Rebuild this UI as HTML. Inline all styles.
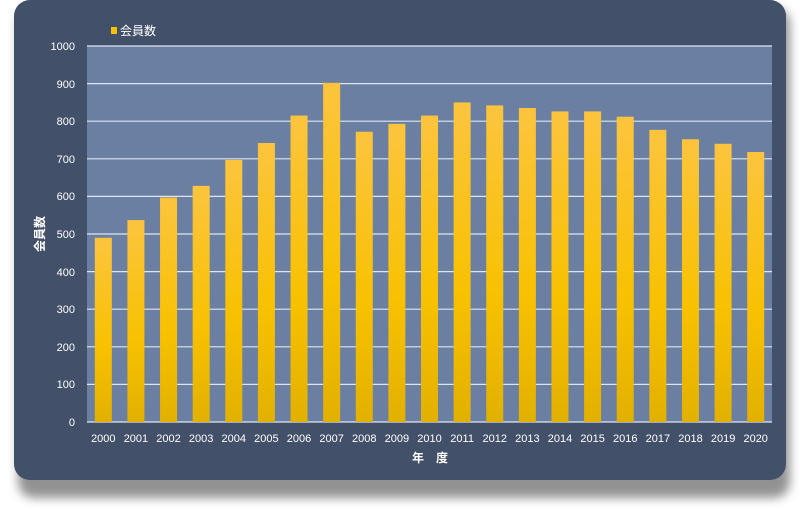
<!DOCTYPE html>
<html><head><meta charset="utf-8"><style>
html,body{margin:0;padding:0;background:#fff;width:800px;height:509px;overflow:hidden}
svg text{font-family:"Liberation Sans","Noto Sans CJK JP",sans-serif;fill:#fff}
</style></head><body>
<svg width="800" height="509" xmlns="http://www.w3.org/2000/svg">
<defs>
<linearGradient id="b" x1="0" y1="0" x2="0" y2="1">
<stop offset="0" stop-color="#fcc43e"/><stop offset="0.6" stop-color="#f8c100"/><stop offset="1" stop-color="#e2b000"/>
</linearGradient>
<filter id="s" x="-5%" y="-5%" width="110%" height="115%"><feGaussianBlur stdDeviation="5"/></filter>
</defs>
<rect x="18" y="8" width="772" height="490" rx="16" fill="#777" filter="url(#s)" opacity="0.8"/>
<rect x="14" y="0" width="772" height="480" rx="16" fill="#435069"/>
<rect x="87" y="46" width="685" height="376" fill="#6a7fa2"/>
<g stroke="#dfe5ee" stroke-width="1.2">
<line x1="87" x2="772" y1="46" y2="46"/><line x1="87" x2="772" y1="83.6" y2="83.6"/><line x1="87" x2="772" y1="121.2" y2="121.2"/><line x1="87" x2="772" y1="158.8" y2="158.8"/><line x1="87" x2="772" y1="196.4" y2="196.4"/><line x1="87" x2="772" y1="234" y2="234"/><line x1="87" x2="772" y1="271.6" y2="271.6"/><line x1="87" x2="772" y1="309.2" y2="309.2"/><line x1="87" x2="772" y1="346.8" y2="346.8"/><line x1="87" x2="772" y1="384.4" y2="384.4"/><line x1="87" x2="772" y1="422" y2="422"/>
</g>
<g font-size="11" text-anchor="end">
<text x="75" y="50">1000</text><text x="75" y="88">900</text><text x="75" y="125">800</text><text x="75" y="163">700</text><text x="75" y="200">600</text><text x="75" y="238">500</text><text x="75" y="276">400</text><text x="75" y="313">300</text><text x="75" y="351">200</text><text x="75" y="388">100</text><text x="75" y="426">0</text>
</g>
<g id="bars" fill="url(#b)"></g>
<g id="lbl" font-size="11" text-anchor="middle"></g>
<text x="44" y="234" font-size="12" font-weight="bold" text-anchor="middle" transform="rotate(-90 44 234)">会員数</text>
<text x="430" y="462" font-size="12" font-weight="bold" text-anchor="middle">年　度</text>
<rect x="111" y="27" width="6" height="7" fill="#f8c100"/>
<text x="120" y="35" font-size="12">会員数</text>
<script>
var v=[490,537,597,628,697,742,815,902,772,793,815,850,842,835,826,826,812,777,752,740,718];
var g=document.getElementById('bars'),l=document.getElementById('lbl'),n='http://www.w3.org/2000/svg';
v.forEach(function(d,i){var c=87+32.62*(i+0.5);var h=d*0.376;var r=document.createElementNS(n,'rect');
r.setAttribute('x',c-8.5);r.setAttribute('y',422-h);r.setAttribute('width',17);r.setAttribute('height',h);g.appendChild(r);
var t=document.createElementNS(n,'text');t.setAttribute('x',c);t.setAttribute('y',442);t.textContent=2000+i;l.appendChild(t);});
</script>
</svg>
</body></html>
